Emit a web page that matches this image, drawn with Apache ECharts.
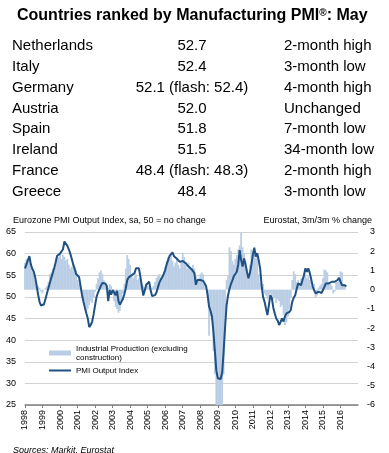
<!DOCTYPE html>
<html><head><meta charset="utf-8">
<script src="https://cdn.jsdelivr.net/npm/echarts@6/dist/echarts.min.js"></script>
<style>html,body{margin:0;padding:0;background:#fff}#c{width:389px;height:453px}</style>
</head><body><div id="c"></div>
<script>
// Table
const countries = ['Netherlands','Italy','Germany','Austria','Spain','Ireland','France','Greece'];
const readings = ['52.7','52.4','52.1 (flash: 52.4)','52.0','51.8','51.5','48.4 (flash: 48.3)','48.4'];
const notes = ['2-month high','3-month low','4-month high','Unchanged','7-month low','34-month low','2-month high','3-month low'];

// Monthly series, Jan 1998 .. May 2016
const startYear = 1998;
const pmiOutput = [
 56.6,57.5,58.5,59.4,57.5,56.5,55.8,54.5,52.5,50.5,48.8,48.0,
 47.8,48.3,49.5,50.8,52.0,53.2,54.4,55.5,56.7,58.0,59.5,59.9,
 60.0,59.6,61.0,62.8,62.4,61.8,61.0,60.0,58.8,57.5,56.5,55.3,
 55.0,54.6,52.6,50.5,48.9,47.5,46.2,45.0,43.0,43.5,44.3,46.0,
 48.1,50.0,51.0,51.8,52.6,53.2,53.4,53.1,52.5,49.0,51.6,50.5,
 51.6,51.0,50.4,51.4,49.0,48.2,48.3,49.5,50.6,52.0,53.9,54.5,
 54.7,55.0,54.7,55.5,56.6,57.0,56.6,54.7,52.5,50.3,51.5,52.8,
 53.2,53.5,51.6,50.2,50.0,50.4,51.0,52.2,53.3,54.0,54.6,55.3,
 56.2,57.5,58.5,59.5,59.9,60.3,59.4,59.2,58.8,58.5,58.1,58.0,
 58.3,58.5,57.8,57.4,57.0,56.6,56.4,56.2,55.5,52.8,53.9,53.5,
 53.9,54.0,53.7,53.4,52.5,50.5,47.8,46.8,45.5,42.0,37.5,33.0,
 31.2,30.8,31.0,32.5,37.3,43.0,48.0,50.3,51.8,53.0,53.8,54.8,
 55.3,55.8,57.5,60.8,58.5,57.0,58.9,57.5,55.8,54.3,55.5,57.4,
 59.7,61.4,59.3,60.1,58.5,56.6,52.7,50.0,48.9,47.3,45.8,48.1,
 50.4,49.7,47.5,46.2,45.0,44.5,43.5,44.2,45.0,44.3,45.5,46.2,
 45.8,46.5,47.0,48.9,49.8,50.4,51.8,53.1,52.7,52.7,53.9,55.0,
 56.6,55.8,56.6,55.5,54.0,52.4,51.5,50.8,51.0,51.2,50.8,50.9,
 51.6,52.3,53.1,53.1,53.1,53.5,53.5,53.4,53.5,53.7,53.9,54.4,
 54.6,52.7,53.1,52.7,52.4
];
const industrialProduction = [
 1.4,1.6,1.5,1.7,1.2,0.9,0.8,0.5,0.3,0.2,0.1,-0.1,
 -0.2,0.0,0.1,0.2,0.4,0.8,0.9,1.1,1.0,1.4,1.6,1.7,
 1.8,1.6,1.8,1.7,1.5,1.6,1.3,1.1,1.2,1.4,1.2,1.0,
 0.5,0.3,0.1,-0.4,-0.6,-0.9,-1.1,-1.0,-0.8,-0.6,-0.7,-0.4,
 -0.1,0.3,0.6,0.9,1.0,0.8,0.5,0.3,0.2,0.1,0.3,0.2,
 -0.2,-0.6,-0.9,-1.0,-1.2,-1.1,-0.6,-0.2,0.3,1.1,1.8,1.6,
 1.3,0.8,0.6,0.7,0.8,0.5,0.6,0.4,0.3,0.2,0.1,0.3,
 0.2,0.1,-0.1,0.1,0.2,0.4,0.6,0.7,0.8,0.6,0.7,0.9,
 1.2,1.5,1.7,1.6,1.8,1.5,1.2,1.4,1.6,1.3,1.1,1.5,
 1.9,1.7,1.3,1.1,1.4,1.2,1.0,1.3,1.1,0.7,0.5,0.6,
 0.8,0.9,0.8,0.3,0.0,-0.4,-2.4,-1.4,-1.6,-3.2,-4.4,-6.0,
 -6.0,-6.0,-6.0,-6.0,-4.4,-1.8,0.5,0.7,2.2,2.0,1.5,1.3,
 1.6,1.8,2.1,2.3,2.95,2.2,1.9,1.5,1.0,0.8,1.3,2.1,
 2.0,1.9,1.65,1.8,0.8,0.35,0.2,0.3,-0.2,-0.3,-0.5,-0.4,
 -0.2,-0.3,-0.5,-0.4,-0.7,-0.5,-0.6,-0.9,-0.8,-1.3,-1.85,-1.7,
 -1.4,-1.0,-0.4,0.5,0.95,0.8,0.4,0.5,0.3,0.6,0.4,0.7,
 0.8,0.6,0.7,0.5,0.2,0.1,0.3,-0.4,-0.3,0.1,0.2,0.3,
 0.6,1.05,1.0,0.9,0.4,0.3,0.2,-0.2,-0.1,0.5,0.4,0.6,
 0.95,0.9,0.3,0.2,null
];
const seriesNames = ['Industrial Production (excluding\nconstruction)', 'PMI Output Index'];
const leftAxis = {min: 25, max: 65, interval: 5};
const rightAxis = {min: -6, max: 3, interval: 1};
const xAxisRange = {min: 1998, max: 2017, interval: 1};

const monthX = i => startYear + i / 12;
const pmiData = pmiOutput.map((v, i) => [monthX(i), v]);
const ipData = industrialProduction.map((v, i) => [monthX(i), v]);

const FONT = '"Liberation Sans", Arial, sans-serif';
const BAR_COLOR = '#b9cde5';
const LINE_COLOR = '#1f5182';
const tableGraphics = [];
countries.forEach((c, i) => {
  const y = 46 + i * 20.8;
  tableGraphics.push({type:'text', x:12, y:y, style:{text:c, font:'15px '+FONT, fill:'#000', textAlign:'left', textVerticalAlign:'middle'}});
  tableGraphics.push({type:'text', x:192, y:y, style:{text:readings[i], font:'15px '+FONT, fill:'#000', textAlign:'center', textVerticalAlign:'middle'}});
  tableGraphics.push({type:'text', x:284, y:y, style:{text:notes[i], font:'15px '+FONT, fill:'#000', textAlign:'left', textVerticalAlign:'middle'}});
});

const legendText = {fontSize: 8, color: '#000', fontFamily: FONT, lineHeight: 9};
const chart = echarts.init(document.getElementById('c'), null, {renderer:'canvas'});
chart.setOption({
  animation: false,
  backgroundColor: '#fff',
  textStyle: {fontFamily: FONT},
  title: [
    {text: 'Countries ranked by Manufacturing PMI{s|®}: May', left: 12, top: 3,
     textStyle: {fontSize: 16, fontWeight: 'bold', color: '#000', fontFamily: FONT,
       rich: {s: {fontSize: 10, fontWeight: 'bold', verticalAlign: 'top', padding:[0,0,6,0], color:'#000', fontFamily: FONT}}}},
    {text: 'Eurozone PMI Output Index, sa, 50 = no change', left: 8, top: 211,
     textStyle: {fontSize: 9, fontWeight: 'normal', color: '#000', fontFamily: FONT}},
    {text: 'Eurostat, 3m/3m % change', right: 12, top: 211,
     textStyle: {fontSize: 9, fontWeight: 'normal', color: '#000', fontFamily: FONT}},
    {text: 'Sources: Markit, Eurostat', left: 8, top: 441,
     textStyle: {fontSize: 9, fontWeight: 'normal', fontStyle: 'italic', color: '#000', fontFamily: FONT}}
  ],
  graphic: tableGraphics,
  legend: [
    {orient: 'vertical', left: 49, top: 344, padding: 0, itemWidth: 22, itemHeight: 5,
     textStyle: legendText, data: [{name: seriesNames[0], icon: 'rect'}]},
    {orient: 'vertical', left: 49, top: 366, padding: 0, itemWidth: 22, itemHeight: 2,
     textStyle: legendText, data: [{name: seriesNames[1], icon: 'rect'}]}
  ],
  grid: {left: 25, right: 31, top: 232, bottom: 48, containLabel: false},
  xAxis: {
    type: 'value', min: xAxisRange.min, max: xAxisRange.max, interval: xAxisRange.interval,
    axisLine: {show: true, onZero: false, lineStyle: {color: '#7f7f7f', width: 1.5}},
    axisTick: {show: true, length: 3, inside: false, lineStyle: {color: '#7f7f7f'}},
    splitLine: {show: false},
    axisLabel: {rotate: 90, fontSize: 9, color: '#000', margin: 5, showMaxLabel: false,
      formatter: v => String(Math.round(v))}
  },
  yAxis: [
    {type: 'value', min: leftAxis.min, max: leftAxis.max, interval: leftAxis.interval,
     axisLine: {show: false}, axisTick: {show: false},
     splitLine: {show: true, lineStyle: {color: '#d2d2d2', width: 1}},
     axisLabel: {fontSize: 9, color: '#000', margin: 9}},
    {type: 'value', min: rightAxis.min, max: rightAxis.max, interval: rightAxis.interval,
     position: 'right',
     axisLine: {show: false}, axisTick: {show: false}, splitLine: {show: false},
     axisLabel: {fontSize: 9, color: '#000', margin: 17, align: 'right'}}
  ],
  series: [
    {name: seriesNames[0], type: 'bar', yAxisIndex: 1, data: ipData,
     barWidth: 1.8, itemStyle: {color: BAR_COLOR}, clip: true, z: 1},
    {name: seriesNames[1], type: 'line', yAxisIndex: 0, data: pmiData,
     showSymbol: false, symbol: 'none', lineStyle: {color: LINE_COLOR, width: 2},
     itemStyle: {color: LINE_COLOR}, z: 3}
  ]
});
</script></body></html>
